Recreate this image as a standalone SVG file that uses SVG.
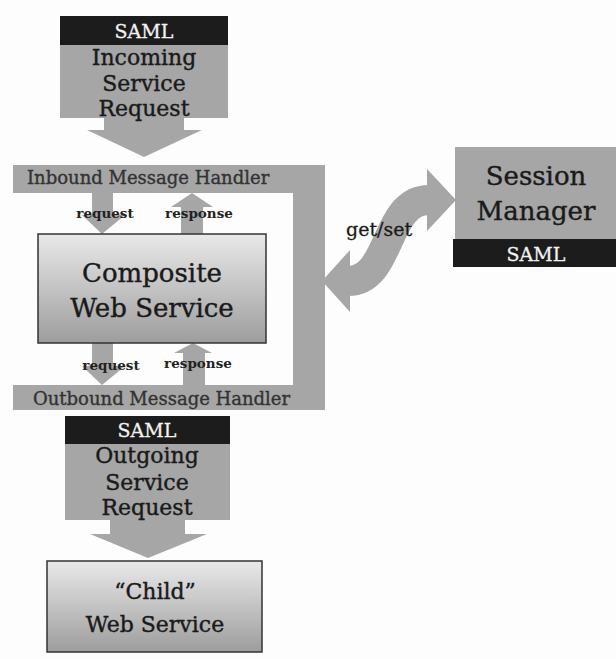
<svg xmlns="http://www.w3.org/2000/svg" width="616" height="659" viewBox="0 0 616 659">
  <defs>
    <linearGradient id="boxGrad" x1="0" y1="0" x2="0" y2="1">
      <stop offset="0" stop-color="#e9e9e9"/>
      <stop offset="1" stop-color="#9d9d9d"/>
    </linearGradient>
    <style>
      .band { fill: #1c1c1c; }
      .block { fill: #a6a6a6; }
      .svc { fill: url(#boxGrad); stroke: #333; stroke-width: 1.5; }
      .t { font-family: "DejaVu Serif", "Liberation Serif", serif; text-anchor: middle; fill: #1a1a1a; stroke: #1a1a1a; stroke-width: 0.4; }
      .saml { font-size: 19px; fill: #f2f2f2; stroke: #f2f2f2; stroke-width: 0.3; }
      .msg { font-size: 22px; }
      .big { font-size: 26px; }
      .handler { font-family: "DejaVu Serif", "Liberation Serif", serif; font-size: 18px; fill: #333; stroke: #333; stroke-width: 0.35; }
      .lbl { font-family: "DejaVu Serif", "Liberation Serif", serif; font-size: 13.5px; font-weight: bold; fill: #222; text-anchor: middle; }
      .flow { fill: none; stroke: #a6a6a6; stroke-width: 30; }
    </style>
  </defs>

  <rect width="616" height="659" fill="#fdfdfd"/>

  <!-- Handler frame: inbound bar, outbound bar and the right-hand spine -->
  <g id="handler-frame">
    <rect class="block" x="13" y="165" width="312" height="28"/>
    <rect class="block" x="293" y="165" width="32" height="245"/>
    <rect class="block" x="13" y="385" width="312" height="25"/>
    <text class="handler" x="27" y="184">Inbound Message Handler</text>
    <text class="handler" x="33" y="405">Outbound Message Handler</text>
  </g>

  <!-- Connectors -->
  <g id="connectors">
    <!-- incoming request into the inbound handler -->
    <polygon class="block" points="104,118 184,118 184,130 202,130 144,157 87,130 104,130"/>
    <!-- outgoing request down to the child service -->
    <polygon class="block" points="110,520 185,520 185,534 207,534 148,558 90,534 110,534"/>
    <!-- inbound request / response -->
    <polygon class="block" points="92,193 113,193 113,215 125,215 102,234 82,215 92,215"/>
    <polygon class="block" points="192,193 213,207 203,207 203,234 181,234 181,207 171,207"/>
    <!-- outbound request / response -->
    <polygon class="block" points="92,343 113,343 113,366 125,366 102,385 82,366 92,366"/>
    <polygon class="block" points="193,343 212,353 205,353 205,385 183,385 183,353 174,353"/>
    <!-- get/set double arrow to the session manager -->
    <path class="flow" d="M348,281 C392,281 384,200 429,200"/>
    <polygon class="block" points="350,250 322,281 350,312"/>
    <polygon class="block" points="427,169 456,200 427,231"/>
    <text class="lbl" x="105" y="218">request</text>
    <text class="lbl" x="199" y="218">response</text>
    <text class="lbl" x="111" y="370">request</text>
    <text class="lbl" x="198" y="368">response</text>
    <text x="346" y="236" style="font-family:'DejaVu Serif','Liberation Serif',serif;font-size:19px;fill:#1a1a1a;stroke:#1a1a1a;stroke-width:0.3">get/set</text>
  </g>

  <g id="incoming-request">
    <rect class="band" x="60" y="16" width="168" height="29"/>
    <rect class="block" x="60" y="45" width="168" height="73"/>
    <text class="t saml" x="144" y="38">SAML</text>
    <text class="t msg" x="144" y="65">Incoming</text>
    <text class="t msg" x="144" y="91">Service</text>
    <text class="t msg" x="144" y="116">Request</text>
  </g>

  <g id="composite-web-service">
    <rect class="svc" x="38" y="234" width="228" height="109"/>
    <text class="t big" x="152" y="282">Composite</text>
    <text class="t big" x="152" y="317">Web Service</text>
  </g>

  <g id="session-manager">
    <rect class="block" x="455" y="147" width="161" height="93"/>
    <rect class="band" x="453" y="239" width="163" height="28"/>
    <text class="t big" x="536" y="185">Session</text>
    <text class="t big" x="536" y="220">Manager</text>
    <text class="t saml" x="536" y="261">SAML</text>
  </g>

  <g id="outgoing-request">
    <rect class="band" x="65" y="416" width="165" height="28"/>
    <rect class="block" x="65" y="444" width="165" height="76"/>
    <text class="t saml" x="147" y="437">SAML</text>
    <text class="t msg" x="147" y="463">Outgoing</text>
    <text class="t msg" x="147" y="490">Service</text>
    <text class="t msg" x="147" y="515">Request</text>
  </g>

  <g id="child-web-service">
    <rect class="svc" x="47" y="561" width="215" height="91"/>
    <text class="t msg" x="155" y="599">“Child”</text>
    <text class="t msg" x="155" y="632">Web Service</text>
  </g>
</svg>
